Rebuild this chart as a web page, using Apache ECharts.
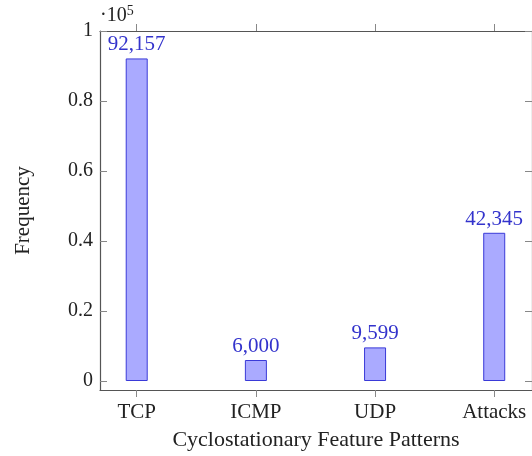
<!DOCTYPE html>
<html>
<head>
<meta charset="utf-8">
<script src="https://cdn.jsdelivr.net/npm/echarts@6/dist/echarts.min.js"></script>
<style>html,body{margin:0;padding:0;background:#fff}#c{width:532px;height:456px}</style>
</head>
<body>
<div id="c"></div>
<script>
const categories = ['TCP', 'ICMP', 'UDP', 'Attacks'];
const frequency = [92157, 6000, 9599, 42345];
const yTicks = [0, 20000, 40000, 60000, 80000, 100000];

const FONT = '"Liberation Serif", "DejaVu Serif", serif';
const AX = '#555';
const TK = '#888';
const chart = echarts.init(document.getElementById('c'), null, {renderer: 'canvas'});
const xIdx = categories.map((c, i) => i);
const data = frequency.map((v, i) => [i, v]);

chart.setOption({
  animation: false,
  grid: {left: 100, right: -3, top: 31, bottom: 66, show: false},
  xAxis: [{
    type: 'value', min: -0.308, max: 3.317,
    name: 'Cyclostationary Feature Patterns', nameLocation: 'middle', nameGap: 39,
    nameTextStyle: {fontFamily: FONT, fontSize: 22, color: '#222'},
    axisLine: {show: true, onZero: false, lineStyle: {color: AX, width: 1.2}},
    axisTick: {show: true, customValues: xIdx, length: 7, inside: false, lineStyle: {color: TK}},
    axisLabel: {customValues: xIdx, formatter: v => categories[Math.round(v)] || '', margin: 12,
      fontFamily: FONT, fontSize: 21, color: '#222'},
    splitLine: {show: false}
  }, {
    type: 'value', min: -0.308, max: 3.317, position: 'top',
    axisLine: {show: true, onZero: false, lineStyle: {color: AX, width: 1.2}},
    axisTick: {show: true, customValues: xIdx, length: 7, inside: false, lineStyle: {color: TK}},
    axisLabel: {show: false},
    splitLine: {show: false}
  }],
  yAxis: [{
    type: 'value', min: -2571, max: 100000,
    name: 'Frequency', nameLocation: 'middle', nameGap: 66, nameRotate: 90,
    nameTextStyle: {fontFamily: FONT, fontSize: 21, color: '#222'},
    axisLine: {show: true, onZero: false, lineStyle: {color: AX, width: 1.2}},
    axisTick: {show: true, customValues: yTicks, length: 7, inside: true, lineStyle: {color: TK}},
    axisLabel: {customValues: yTicks, formatter: v => String(Math.round(v / 1e4) / 10), margin: 7,
      fontFamily: FONT, fontSize: 20, color: '#222'},
    splitLine: {show: false}
  }, {
    type: 'value', min: -2571, max: 100000, position: 'right',
    axisLine: {show: true, onZero: false, lineStyle: {color: AX, width: 1.2}},
    axisTick: {show: true, customValues: yTicks, length: 7, inside: true, lineStyle: {color: TK}},
    axisLabel: {show: false},
    splitLine: {show: false}
  }],
  series: [{
    type: 'bar', data: data, barWidth: 22,
    itemStyle: {color: '#aaaaff', borderColor: '#3a3ad8', borderWidth: 1},
    label: {show: true, position: 'top', distance: 3, fontFamily: FONT, fontSize: 21, color: '#3333cc',
      formatter: p => p.value[1].toLocaleString('en-US')}
  }],
  graphic: [{
    type: 'text', left: 100, top: 4,
    style: {text: '·10{s|5}', fontFamily: FONT, fontSize: 20, fill: '#222',
      rich: {s: {fontSize: 14, verticalAlign: 'top', fontFamily: FONT, fill: '#222', padding: [0,0,9,0]}}}
  }]
});
</script>
</body>
</html>
